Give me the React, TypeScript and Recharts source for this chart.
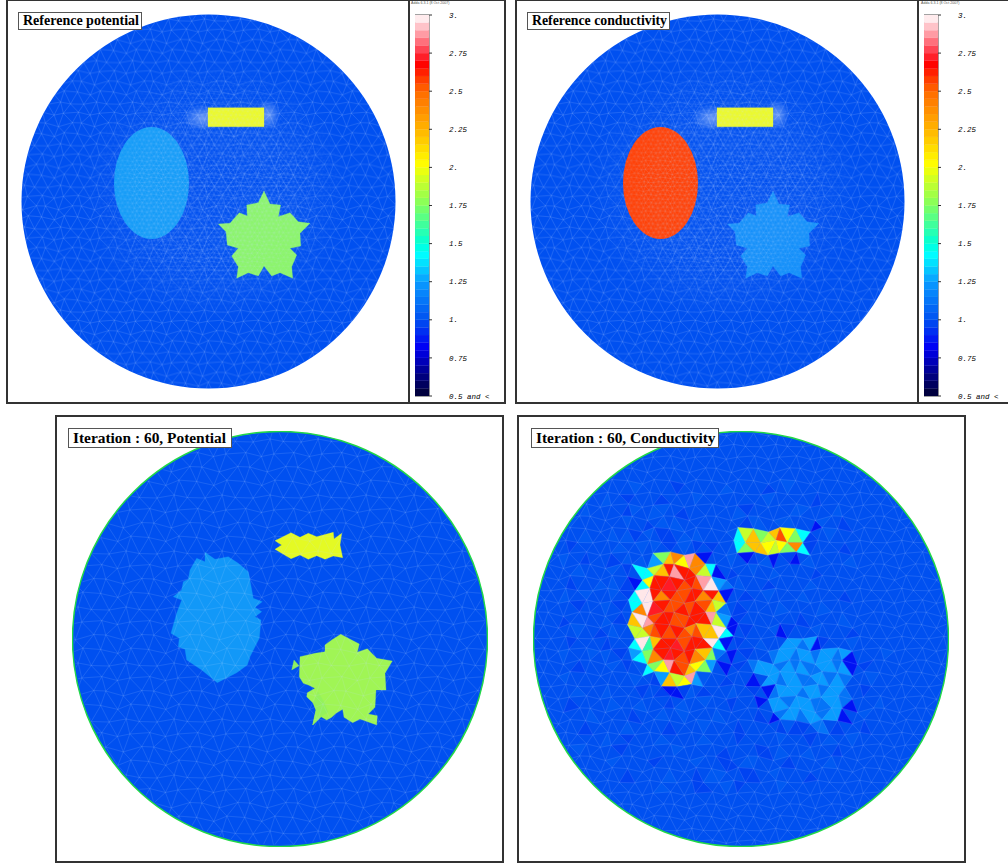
import { Bar, ComposedChart, ReferenceArea, Scatter, ScatterChart, XAxis, YAxis } from 'recharts';

type Pt = [number, number];

// colour scale
const scaleValues = [0.5, 0.75, 0.82, 1, 1.25, 1.43, 1.5, 1.75, 2.02, 2.25, 2.5, 2.68, 2.75, 2.88, 3];
const scaleColors = ['#000030', '#0000c8', '#0000f5', '#0050f0', '#0a9cff', '#00ffff', '#00ffd8', '#80ff60', '#ffff00', '#ffb400', '#ff6a00', '#ff0000', '#ff3040', '#ff9fa8', '#ffffff'];
const barTicks = [3, 2.75, 2.5, 2.25, 2, 1.75, 1.5, 1.25, 1, 0.75, 0.5];
const barLevels = [
  0.5, 0.55, 0.6, 0.65, 0.7, 0.75, 0.8, 0.85, 0.9, 0.95, 1, 1.05, 1.1, 1.15, 1.2, 1.25, 1.3, 1.35, 1.4, 1.45, 1.5, 1.55, 1.6, 1.65, 1.7,
  1.75, 1.8, 1.85, 1.9, 1.95, 2, 2.05, 2.1, 2.15, 2.2, 2.25, 2.3, 2.35, 2.4, 2.45, 2.5, 2.55, 2.6, 2.65, 2.7, 2.75, 2.8, 2.85, 2.9, 2.95,
];

// reference shapes (same mesh in both top panels)
const refRect: Pt[] = [[208, 107.7], [264, 107.7], [264, 126.7], [208, 126.7]];
const refEllipseCentre = { x: 151.5, y: 183 };
const refStar: Pt[] = [
  [264, 191], [270, 204], [280.7, 205], [278.3, 216.7], [290, 212.7], [298.3, 221.7], [310, 223.3], [300, 233.3], [300.7, 246], [290, 248.3],
  [296.7, 255], [291.7, 266.7], [292.7, 278.3], [280, 272.7], [271.7, 276], [264, 266], [258.3, 276], [248.3, 272.7], [236.7, 278.3], [238.3, 266.7],
  [231.7, 256], [238.3, 248.3], [227.3, 245], [226, 231.7], [218.3, 224], [230, 223.3], [239.3, 212.7], [247.3, 216], [246.7, 205], [258.3, 202.7],
];

// iteration 60 potential
const iterYellow: Pt[] = [
  [275, 540.7], [291, 532.7], [300, 537.3], [308.3, 533.3], [316.7, 536.7], [333.3, 532.3], [334, 539], [341.7, 533.3], [340, 545], [342.7, 557.7],
  [333.3, 556], [325, 559.3], [316.7, 555.7], [308.3, 559.3], [300, 555], [291, 558.7], [275, 549.3], [281.7, 545],
];
const iterBlue: Pt[] = [
  [205, 552.3], [215, 559.3], [228.3, 556.7], [238.3, 563.3], [248.3, 571.7], [253.3, 598.3], [262.3, 601.7], [255, 607.3], [261.7, 611.7], [255, 616.7],
  [261, 620], [259.3, 638.3], [250, 656.7], [247.3, 665], [236.7, 672.7], [217.3, 682.7], [201.7, 670], [186.7, 660], [185, 649.3], [178.3, 646.7],
  [179.3, 638.3], [171, 633.3], [176.7, 613.3], [181.7, 600], [173.3, 596.7], [181.7, 590], [183.3, 581.7], [188.3, 579.3], [190, 570], [196.7, 558.3], [205, 561.7],
];
const iterGreen: Pt[] = [
  [340.7, 634.3], [359.3, 644], [357.3, 652.3], [367.3, 648.7], [376.7, 658.3], [392.3, 661], [385, 673.3], [386, 690], [376, 690], [375, 707.3],
  [368.3, 714], [377.3, 715.7], [376.7, 725], [360, 719], [352.7, 722.7], [344, 717.3], [342.7, 709.3], [336, 713.3], [331.7, 717.3], [326.7, 720],
  [321, 716.7], [312.7, 725], [316, 710], [313.3, 703.3], [306.7, 696.7], [307.3, 692.7], [315, 688.3], [308.3, 685], [303.3, 683.3], [299.3, 676.7],
  [300, 656.7], [315, 653.3], [325, 651.7], [325, 645], [331.7, 640],
];
const iterGreenSpur: Pt[] = [[291.7, 670], [294, 660], [299, 665.7]];
const iterGreenPatch: Pt[] = [[318, 692], [324, 702], [328, 712], [321, 716.7], [312.7, 725], [316, 710], [313.3, 703.3]];

// iteration 60 conductivity: one letter per mesh triangle, row by row
const condLetters = 'abcdefghijklmnopq'.split('');
const condValues = [0.86, 0.97, 1.03, 1.12, 1.25, 1.43, 1.6, 1.75, 1.9, 2.02, 2.2, 2.4, 2.55, 2.64, 2.72, 2.88, 2.97];
const condRows = [
  '...........c.....b......c.....b..c',
  '.......c..b....b....c.........c......b',
  '..b.c.....bc..cc..b.......cb......cc....c',
  '..c.......c..b.c.c.........bcc..cc...ac..b',
  '....c...c.cb.c.bb.c.c....cfikhikmjhfb..c',
  '..b......c..c.c.b.c.b.b..cfhkkjijhlfb....b',
  '.c..b...b.c.c.ehkljpla...c.ab.ca.ba.c.....c',
  '...c....c.b.ffiknpnnlifa.b..c..c.....b',
  '..b...c.c.bafjnnonmnmpqed.c...b.....c',
  '.c..c...c.bfqqnlnmmnnlnka..b..c....c.....b',
  '...b...c.b.flqonmmnmnmkid.b.....c.....c',
  '.b.....c.b.kqpmnnmmnnnpieab........b.....c',
  '...c..b.c..iilmnmnmlmkkqfa.b...cab...c....b',
  '..b....b...fqgknnomnnnqfa.b..c...eedeab...c',
  '.c...c.c.b.efhlnonmnlkhd.a.b...deedeedeedea....c',
  '...b....c.b.cfhjpnmkjhe.a.b.deeedededdeedea.b',
  '.c.........c..bekijpec..b...a.eedeeddeeded...c',
  '...c...c....b..baabc.b...c..b.adeeedeedeed..b',
  '..b.....c...c...b.c..c...b...a.eedeeeddeeda...c',
  '.....c.....b...c..c....c.....b.adeedeedeea..c',
  '....b.....c.....b....c....b.....bcbb.dd.b...b',
  '.......c..b....c.....c....b.....c...b..c..c',
  '...c.....b.......c......b....bb.c...c...b',
  '........c.....b.....c...bb.cc....b.....c',
  '..........b.....c...b.cc...bb..c....b',
  '...............c....bb..c.b.....c',
];
const condX0 = 557;
const condY0 = 482;
const condStepX = 7;
const condStepY = 12;

// irregularity of the mesh nodes, one tile of the triangulation
const meshJitter = [
  [0.5, -0.4, -0.3, 0.6, 0.2, -0.5],
  [-0.3, 0.6, 0.5, -0.2, -0.6, 0.3],
  [0.4, 0.2, -0.6, -0.4, 0.5, 0.1],
  [-0.5, -0.2, 0.3, 0.5, -0.2, -0.6],
];

const hexToRgb = (h: string) => [1, 3, 5].map((i) => parseInt(h.slice(i, i + 2), 16));
const colorFor = (v: number) => {
  let i = 0;
  while (i < scaleValues.length - 2 && v > scaleValues[i + 1]) i++;
  const t = Math.min(1, Math.max(0, (v - scaleValues[i]) / (scaleValues[i + 1] - scaleValues[i])));
  const a = hexToRgb(scaleColors[i]);
  const b = hexToRgb(scaleColors[i + 1]);
  return `rgb(${a.map((c, k) => Math.round(c + (b[k] - c) * t)).join(',')})`;
};

const jit = (r: number, i: number, k: number) => meshJitter[((r % 4) + 4) % 4][((i % 6) + 6) % 6] * k;

// path of the lattice tile, drawn past its edges so that it wraps
const meshPath = (sx: number, sy: number) => {
  const node = (r: number, i: number) => `${(i * sx + jit(r, i, sx * 0.45)).toFixed(1)} ${(r * sy + jit(r + 1, i + 2, sy * 0.35)).toFixed(1)}`;
  let d = '';
  for (let r = -4; r < 8; r++) {
    for (let i = -6; i < 12; i++) {
      if ((r + i + 100) % 2) continue;
      d += `M${node(r, i)}L${node(r, i + 2)}M${node(r, i)}L${node(r + 1, i - 1)}M${node(r, i)}L${node(r + 1, i + 1)}`;
    }
  }
  return d;
};

const MeshPattern = ({ id, sx, sy, x = 0, y = 0, stroke }: { id: string; sx: number; sy: number; x?: number; y?: number; stroke: string }) => (
  <pattern id={id} width={6 * sx} height={4 * sy} x={x} y={y} patternUnits="userSpaceOnUse">
    <path d={meshPath(sx, sy)} stroke={stroke} strokeWidth={0.7} fill="none" />
  </pattern>
);

const polygon = (key: string, pts: Pt[], fill: string) => (
  <Scatter
    key={key}
    data={pts.map(([x, y]) => ({ x, y }))}
    isAnimationActive={false}
    shape={() => <g />}
    line={(p: any) => <polygon points={p.points.map((q: any) => `${q.x},${q.y}`).join(' ')} fill={fill} stroke={fill} strokeWidth={0.3} />}
  />
);

const ellipse = (key: string, x: number, y: number, rx: number, ry: number, fill: string, extra: any = {}) => (
  <Scatter
    key={key}
    data={[{ x, y }]}
    isAnimationActive={false}
    shape={(p: any) => <ellipse cx={p.cx} cy={p.cy} rx={rx} ry={ry} fill={fill} {...extra} />}
  />
);

const Disk = ({ left, top, size, xMin, yMin, children }: { left: number; top: number; size: number; xMin: number; yMin: number; children: any }) => (
  <div style={{ position: 'absolute', left: left - 4, top: top - 4 }}>
    <ScatterChart width={size + 8} height={size + 8} margin={{ top: 4, right: 4, bottom: 4, left: 4 }}>
      <XAxis type="number" dataKey="x" domain={[xMin, xMin + size]} hide allowDataOverflow />
      <YAxis type="number" dataKey="y" domain={[yMin, yMin + size]} reversed hide allowDataOverflow />
      {children}
    </ScatterChart>
  </div>
);

// one stacked column: a hidden base up to 0.5, then one band per level
const barRow: Record<string, number | string> = { name: 'bar', base: 0.5 };
barLevels.forEach((v) => {
  barRow[`l${v}`] = 0.05;
});

const ColorBar = ({ left }: { left: number }) => (
  <div style={{ position: 'absolute', left, top: 11 }}>
    <ComposedChart width={90} height={389} data={[barRow]} margin={{ top: 4, right: 0, bottom: 4, left: 0 }} barCategoryGap={0}>
      <XAxis dataKey="name" hide />
      <YAxis
        orientation="right"
        type="number"
        domain={[0.5, 3]}
        ticks={barTicks}
        interval={0}
        width={76}
        allowDataOverflow
        axisLine={false}
        tickSize={3}
        tickMargin={17}
        tickLine={{ stroke: '#333' }}
        tick={{ fill: '#000', fontSize: 7.5, fontStyle: 'italic', fontFamily: 'Liberation Mono' }}
        tickFormatter={(v: number) => (v === 0.5 ? '0.5 and <' : Number.isInteger(v) ? `${v}.` : `${v}`)}
      />
      <Bar dataKey="base" stackId="c" fill="none" isAnimationActive={false} />
      {barLevels.map((v) => (
        <Bar key={v} dataKey={`l${v}`} stackId="c" fill={colorFor(v + 0.025)} stroke={colorFor(v + 0.025)} strokeWidth={0.3} isAnimationActive={false} />
      ))}
      <ReferenceArea y1={0.5} y2={3} fill="none" stroke="#444" strokeWidth={1} />
    </ComposedChart>
  </div>
);

const Label = ({ left, top, width, height, text, size }: { left: number; top: number; width: number; height: number; text: string; size: number }) => (
  <div
    style={{
      position: 'absolute', left, top, width, height, boxSizing: 'border-box', background: '#fff', border: '1px solid #555',
      fontFamily: 'Liberation Serif', fontWeight: 'bold', fontSize: size, lineHeight: `${height - 2}px`, paddingLeft: 4, whiteSpace: 'nowrap', color: '#000',
    }}
  >
    {text}
  </div>
);

const Frame = ({ left, top, width, height }: { left: number; top: number; width: number; height: number }) => (
  <div style={{ position: 'absolute', left, top, width, height, boxSizing: 'border-box', border: '2px solid #333' }} />
);

const Stamp = ({ left }: { left: number }) => (
  <div style={{ position: 'absolute', left, top: 1, fontFamily: 'Liberation Sans', fontSize: 3.6, lineHeight: '5px', color: '#555', whiteSpace: 'nowrap' }}>
    Adda 6.3.1 (8 Oct 2007)
  </div>
);

const refDisk = (id: string, ellipseFill: string, starFill: string) => (
  <Disk left={21} top={14} size={375} xMin={21} yMin={14}>
    <defs>
      <MeshPattern id={`${id}c`} sx={6} sy={10.4} stroke="rgba(190,215,255,0.24)" />
      <MeshPattern id={`${id}f`} sx={2.4} sy={4.2} stroke="rgba(200,220,255,0.2)" />
      <radialGradient id={`${id}h`}>
        <stop offset="0%" stopColor="#cfe0ff" stopOpacity={0.5} />
        <stop offset="100%" stopColor="#cfe0ff" stopOpacity={0} />
      </radialGradient>
      <radialGradient id={`${id}g`}>
        <stop offset="0%" stopColor="#fff" />
        <stop offset="55%" stopColor="#fff" />
        <stop offset="100%" stopColor="#000" />
      </radialGradient>
      <mask id={`${id}m`} maskContentUnits="objectBoundingBox">
        <rect width={1} height={1} fill={`url(#${id}g)`} />
      </mask>
    </defs>
    {ellipse('disk', 208.5, 201.5, 187, 187, '#0050f0')}
    {ellipse('meshc', 208.5, 201.5, 187, 187, `url(#${id}c)`)}
    {ellipse('haloL', 203, 118, 20, 13, `url(#${id}h)`)}
    {ellipse('haloR', 268, 115, 12, 15, `url(#${id}h)`)}
    {ellipse('ell', refEllipseCentre.x, refEllipseCentre.y, 37.5, 56, ellipseFill)}
    {polygon('star', refStar, starFill)}
    {polygon('rect', refRect, '#ecfa2c')}
    {ellipse('meshf', 215, 190, 135, 130, `url(#${id}f)`, { mask: `url(#${id}m)` })}
  </Disk>
);

const condData: { x: number; y: number }[] = [];
const condFills: string[] = [];
condRows.forEach((row, r) => {
  row.split('').forEach((ch, c) => {
    const k = condLetters.indexOf(ch);
    if (k < 0) return;
    const nodes: [number, number][] = (r + c) % 2 === 0 ? [[r, c], [r + 1, c - 1], [r + 1, c + 1]] : [[r, c - 1], [r, c + 1], [r + 1, c]];
    nodes.forEach(([nr, ni]) =>
      condData.push({
        x: condX0 + ni * condStepX + jit(nr, ni, condStepX * 0.45),
        y: condY0 + nr * condStepY + jit(nr + 1, ni + 2, condStepY * 0.35),
      }),
    );
    condFills.push(colorFor(condValues[k]));
  });
});

const condTriangles = (p: any) => (
  <g clipPath="url(#ibclip)">
    {condFills.map((fill, i) => {
      const pts = p.points.slice(i * 3, i * 3 + 3);
      return <polygon key={i} points={pts.map((q: any) => `${q.x},${q.y}`).join(' ')} fill={fill} stroke={fill} strokeWidth={0.4} />;
    })}
  </g>
);

export default function App() {
  return (
    <div style={{ position: 'absolute', left: 0, top: 0, width: 1008, height: 867, overflow: 'hidden', background: '#fff' }}>
      <Frame left={6} top={-1} width={500} height={405} />
      <div style={{ position: 'absolute', left: 408, top: 0, width: 2, height: 403, background: '#333' }} />
      <Frame left={515} top={-1} width={510} height={405} />
      <div style={{ position: 'absolute', left: 917, top: 0, width: 2, height: 403, background: '#333' }} />
      <Frame left={55} top={415} width={449} height={448} />
      <Frame left={517} top={415} width={449} height={448} />

      {refDisk('ra', '#159cf8', '#8cf56c')}
      <div style={{ position: 'absolute', left: 509, top: 0 }}>{refDisk('rb', '#ff4208', '#1590fa')}</div>

      <ColorBar left={415} />
      <ColorBar left={924} />
      <Stamp left={411} />
      <Stamp left={921} />

      <Disk left={72} top={431} size={416} xMin={72} yMin={431}>
        <defs>
          <MeshPattern id="ia" sx={8} sy={14} stroke="rgba(190,215,255,0.2)" />
        </defs>
        {ellipse('disk', 280, 639, 207.5, 207.5, '#0050f0', { stroke: '#22d848', strokeWidth: 1.5 })}
        {polygon('blue', iterBlue, '#1298f8')}
        {polygon('green', iterGreen, '#a0f555')}
        {polygon('spur', iterGreenSpur, '#8cf060')}
        {polygon('patch', iterGreenPatch, '#94f25c')}
        {polygon('yellow', iterYellow, '#e4fa24')}
        {ellipse('mesh', 280, 639, 206, 206, 'url(#ia)')}
      </Disk>

      <Disk left={533} top={431} size={416} xMin={533} yMin={431}>
        <defs>
          <MeshPattern id="ib" sx={condStepX} sy={condStepY} x={condX0 - 533 + 4} y={condY0 - 431 + 4} stroke="rgba(200,222,255,0.2)" />
          <clipPath id="ibclip">
            <circle cx={212} cy={212} r={206} />
          </clipPath>
        </defs>
        {ellipse('disk', 741, 639, 207.5, 207.5, '#0050f0', { stroke: '#22d848', strokeWidth: 1.5 })}
        <Scatter data={condData} isAnimationActive={false} shape={() => <g />} line={condTriangles} />
        {ellipse('mesh', 741, 639, 206, 206, 'url(#ib)')}
      </Disk>

      <Label left={18} top={12} width={124} height={18} text="Reference potential" size={14} />
      <Label left={527} top={12} width={143} height={18} text="Reference conductivity" size={13.8} />
      <Label left={68} top={428} width={164} height={20} text="Iteration : 60, Potential" size={15.4} />
      <Label left={531} top={428} width={188} height={20} text="Iteration : 60, Conductivity" size={15.4} />
    </div>
  );
}
